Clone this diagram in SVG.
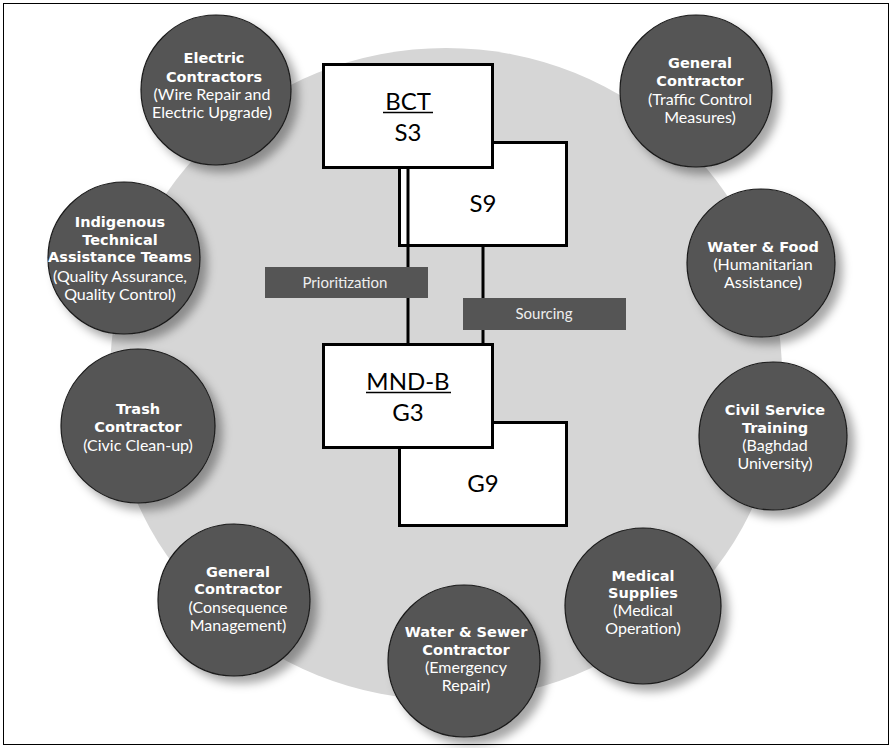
<svg xmlns="http://www.w3.org/2000/svg" width="892" height="748" viewBox="0 0 892 748">
<defs>
<filter id="sh" x="-30%" y="-30%" width="170%" height="170%">
<feDropShadow dx="7" dy="7" stdDeviation="5" flood-color="#000" flood-opacity="0.35"/>
</filter>
<style>
.c{fill:#555555;stroke:#1a1a1a;stroke-width:1.2;filter:url(#sh)}
.t{font-family:"DejaVu Sans",sans-serif;font-weight:bold;font-size:14.5px;fill:#ffffff;text-anchor:middle}
.s{font-family:Lato,"Open Sans",sans-serif;font-size:16px;fill:#ffffff;text-anchor:middle}
.box{fill:#ffffff;stroke:#000;stroke-width:3}
.bt{font-family:Lato,"Open Sans",sans-serif;font-size:24px;fill:#000;text-anchor:middle}
.lab{fill:#555555}
.lt{font-family:Lato,"Open Sans",sans-serif;font-size:15px;fill:#eeeeee;text-anchor:middle}
.ln{stroke:#000;stroke-width:3;fill:none}
</style>
</defs>
<rect x="0" y="0" width="892" height="748" fill="#ffffff"/>
<rect x="3.5" y="3.5" width="885" height="741" fill="none" stroke="#000" stroke-width="1"/>
<ellipse cx="446" cy="374" rx="336" ry="326" fill="#d6d6d6"/>

<g id="n-electric"><circle class="c" cx="216" cy="90" r="75"/>
<text class="t" x="214" y="63">Electric</text><text class="t" x="214" y="82">Contractors</text>
<text class="s" x="212" y="100">(Wire Repair and</text><text class="s" x="212" y="118">Electric Upgrade)</text></g>

<g id="n-gen-traffic"><circle class="c" cx="696" cy="91" r="76"/>
<text class="t" x="700" y="68">General</text><text class="t" x="700" y="86">Contractor</text>
<text class="s" x="700" y="105">(Traffic Control</text><text class="s" x="700" y="123">Measures)</text></g>

<g id="n-indigenous"><circle class="c" cx="124" cy="258" r="76"/>
<text class="t" x="120" y="227">Indigenous</text><text class="t" x="120" y="245">Technical</text><text class="t" x="120" y="262">Assistance Teams</text>
<text class="s" x="120" y="282">(Quality Assurance,</text><text class="s" x="120" y="300">Quality Control)</text></g>

<g id="n-waterfood"><circle class="c" cx="761" cy="263" r="74"/>
<text class="t" x="763" y="252">Water &amp; Food</text>
<text class="s" x="763" y="270">(Humanitarian</text><text class="s" x="763" y="288">Assistance)</text></g>

<g id="n-trash"><circle class="c" cx="138" cy="426" r="77"/>
<text class="t" x="138" y="414">Trash</text><text class="t" x="138" y="432">Contractor</text>
<text class="s" x="138" y="451">(Civic Clean-up)</text></g>

<g id="n-civil"><circle class="c" cx="773" cy="436" r="74"/>
<text class="t" x="775" y="415">Civil Service</text><text class="t" x="775" y="433">Training</text>
<text class="s" x="775" y="451">(Baghdad</text><text class="s" x="775" y="469">University)</text></g>

<g id="n-gen-conseq"><circle class="c" cx="234" cy="600" r="76"/>
<text class="t" x="238" y="577">General</text><text class="t" x="238" y="594">Contractor</text>
<text class="s" x="238" y="613">(Consequence</text><text class="s" x="238" y="631">Management)</text></g>

<g id="n-medical"><circle class="c" cx="643" cy="606" r="78"/>
<text class="t" x="643" y="581">Medical</text><text class="t" x="643" y="598">Supplies</text>
<text class="s" x="643" y="616">(Medical</text><text class="s" x="643" y="634">Operation)</text></g>

<g id="n-watersewer"><circle class="c" cx="464" cy="661" r="76"/>
<text class="t" x="466" y="637">Water &amp; Sewer</text><text class="t" x="466" y="655">Contractor</text>
<text class="s" x="466" y="673">(Emergency</text><text class="s" x="466" y="691">Repair)</text></g>

<g id="n-s9"><rect class="box" x="399.5" y="142.5" width="167" height="103"/>
<text class="bt" x="483" y="212">S9</text></g>
<g id="n-bct"><rect class="box" x="323.5" y="64.5" width="169" height="103"/>
<text class="bt" x="408" y="110">BCT</text><line x1="383" y1="112.5" x2="433" y2="112.5" stroke="#000" stroke-width="1.3"/>
<text class="bt" x="408" y="141">S3</text></g>

<g id="n-g9"><rect class="box" x="399.5" y="422.5" width="167" height="103"/>
<text class="bt" x="483" y="492">G9</text></g>
<g id="n-mndb"><rect class="box" x="323.5" y="344.5" width="169" height="103"/>
<text class="bt" x="408" y="390">MND-B</text><line x1="366" y1="392.5" x2="451" y2="392.5" stroke="#000" stroke-width="1.3"/>
<text class="bt" x="408" y="421">G3</text></g>

<g id="connectors">
<line class="ln" x1="408" y1="168" x2="408" y2="344"/>
<line class="ln" x1="483" y1="246" x2="483" y2="344"/>
</g>

<g id="l-prior"><rect class="lab" x="265" y="267" width="163" height="31"/>
<text class="lt" x="345" y="288">Prioritization</text></g>
<g id="l-source"><rect class="lab" x="463" y="298" width="163" height="32"/>
<text class="lt" x="544" y="319">Sourcing</text></g>
</svg>
